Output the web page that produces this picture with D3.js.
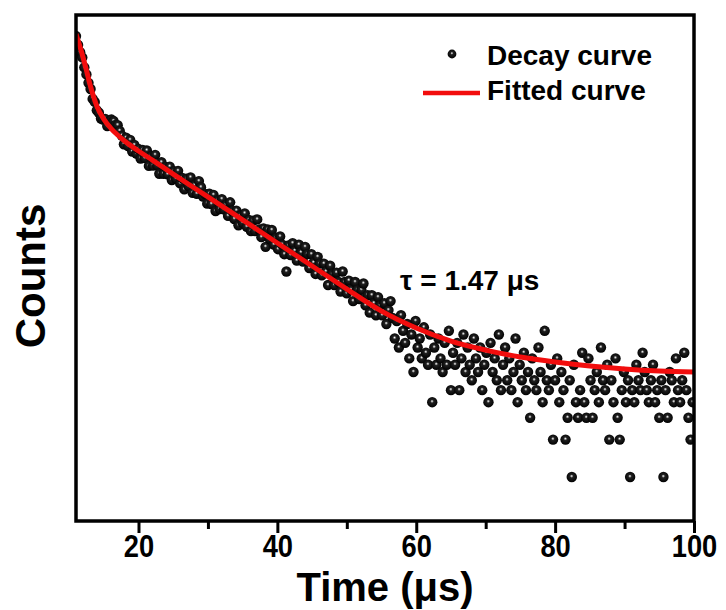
<!DOCTYPE html>
<html>
<head>
<meta charset="utf-8">
<script src="https://cdn.jsdelivr.net/npm/d3@7"></script>
<style>
  html, body { margin: 0; padding: 0; background: #fff; }
  text { font-family: "Liberation Sans", Arial, sans-serif; font-weight: bold; fill: #000; }
</style>
</head>
<body>
<div id="chart"></div>
<script>
// ---- data ----
const xTicksMajor = [20, 40, 60, 80, 100];
const xTicksMinor = [30, 50, 70, 90];
const xDomain = [11, 100];
const yDomain = [0.443, 5200];   // log scale, counts (no labels shown)

// fitted curve (time in us, counts)
const fitTime = [11.0, 11.5, 12.0, 12.5, 13.0, 13.5, 14.0, 15.0, 16.0, 17.0, 18.0, 20.0, 22.0, 25.0,
  30.0, 35.0, 40.0, 45.0, 50.0, 55.0, 60.0, 65.0, 70.0, 75.0, 80.0, 85.0, 90.0, 95.0, 100.0];
const fitCounts = [3650, 2980, 2390, 1873, 1447, 1160, 963, 757, 641, 563, 504, 419, 354, 273,
  179, 117, 76.2, 49.8, 32.5, 21.6, 15.8, 12.4, 10.5, 9.23, 8.41, 7.81, 7.39, 7.12, 6.99];

// decay curve points [time, counts]
const decayPoints = [
  [11.0, 3520], [11.3, 2990], [11.6, 2610], [11.9, 2370], [12.2, 1970], [12.5, 1730], [12.8, 1480],
  [13.1, 1320], [13.4, 1100], [13.7, 1040], [14.0, 890], [14.3, 850], [14.6, 765], [14.9, 750],
  [15.2, 760], [15.5, 665], [15.8, 730], [16.1, 750], [16.4, 730], [16.7, 680], [17.0, 676],
  [17.3, 608], [17.6, 557], [17.9, 475], [18.2, 535], [18.5, 460], [18.8, 515], [19.1, 415],
  [19.4, 468], [19.7, 400], [20.0, 435], [20.3, 365], [20.6, 428], [20.9, 367], [21.2, 423],
  [21.5, 318], [21.8, 380], [22.1, 320], [22.4, 390], [22.7, 321], [23.0, 275], [23.3, 340],
  [23.6, 275], [23.9, 312], [24.2, 272], [24.5, 314], [24.8, 245], [25.1, 288], [25.4, 251],
  [25.7, 290], [26.0, 230], [26.3, 254], [26.6, 206], [26.9, 251], [27.2, 219], [27.5, 257],
  [27.8, 193], [28.1, 223], [28.4, 190], [28.7, 240], [29.0, 214], [29.3, 180], [29.6, 189],
  [29.9, 158], [30.2, 190], [30.5, 157], [30.8, 186], [31.1, 138], [31.4, 168], [31.7, 143],
  [32.0, 172], [32.3, 142], [32.6, 155], [32.9, 126], [33.2, 162], [33.5, 138], [33.8, 119],
  [34.1, 139], [34.4, 106], [34.7, 127], [35.0, 111], [35.3, 132], [35.6, 103], [35.9, 117],
  [36.2, 95], [36.5, 115], [36.8, 95], [37.1, 118], [37.4, 98], [37.7, 85], [38.0, 100],
  [38.3, 71], [38.6, 98], [38.9, 82], [39.2, 97], [39.5, 74], [39.8, 84], [40.1, 68],
  [40.4, 86], [40.7, 74], [41.0, 62], [41.3, 45], [41.6, 73], [41.9, 61], [42.2, 76],
  [42.5, 66], [42.8, 55], [43.1, 74], [43.4, 64], [43.7, 54], [44.0, 71], [44.3, 62],
  [44.6, 48], [44.9, 62], [45.2, 53], [45.5, 43], [45.8, 59], [46.1, 52], [46.4, 42],
  [46.7, 52], [47.0, 45], [47.3, 35], [47.6, 50], [47.9, 43], [48.2, 35], [48.5, 44],
  [48.8, 37], [49.1, 31], [49.4, 45], [49.7, 37], [50.0, 30], [50.3, 38], [50.6, 32],
  [50.9, 26], [51.2, 37], [51.5, 32], [51.8, 27], [52.1, 32], [52.4, 36], [52.7, 24],
  [53.0, 29], [53.3, 21], [53.6, 29], [53.9, 25], [54.2, 20], [54.5, 28], [54.8, 24],
  [55.1, 20], [55.4, 25], [55.7, 17], [56.0, 22], [56.3, 26], [56.6, 19], [56.9, 13],
  [57.2, 18], [57.5, 11], [57.8, 20], [58.1, 15], [58.4, 12], [58.7, 17], [59.0, 9],
  [59.3, 14], [59.6, 7], [59.9, 18], [60.2, 11], [60.5, 13], [60.8, 9], [61.1, 16],
  [61.4, 10], [61.7, 8], [62.0, 14], [62.3, 4], [62.6, 11], [62.9, 8], [63.2, 13],
  [63.5, 9], [63.8, 7], [64.1, 12], [64.4, 8], [64.7, 15], [65.0, 5], [65.3, 10],
  [65.6, 8], [65.9, 12], [66.2, 5], [66.5, 9], [66.8, 14], [67.1, 7], [67.4, 11],
  [67.7, 8], [68.0, 6], [68.3, 13], [68.6, 9], [68.9, 7], [69.2, 11], [69.5, 5],
  [69.8, 8], [70.1, 10], [70.4, 4], [70.7, 12], [71.0, 7], [71.3, 9], [71.6, 6],
  [71.9, 14], [72.2, 5], [72.5, 8], [72.8, 11], [73.1, 6], [73.4, 9], [73.7, 5],
  [74.0, 7], [74.3, 13], [74.6, 4], [74.9, 8], [75.2, 6], [75.5, 10], [75.8, 5],
  [76.1, 7], [76.4, 3], [76.7, 9], [77.0, 6], [77.3, 5], [77.6, 11], [77.9, 7],
  [78.2, 4], [78.5, 15], [78.8, 6], [79.1, 5], [79.4, 8], [79.7, 2], [80.0, 6],
  [80.3, 9], [80.6, 4], [80.9, 7], [81.2, 5], [81.5, 2], [81.8, 3], [82.1, 6],
  [82.4, 1], [82.7, 8], [83.0, 4], [83.3, 3], [83.6, 5], [83.9, 10], [84.2, 4],
  [84.5, 3], [84.8, 9], [85.1, 6], [85.4, 3], [85.7, 5], [86.0, 7], [86.3, 4],
  [86.6, 11], [86.9, 6], [87.2, 5], [87.5, 8], [87.8, 2], [88.1, 6], [88.4, 4],
  [88.7, 9], [89.0, 3], [89.3, 2], [89.6, 5], [89.9, 7], [90.2, 4], [90.5, 6],
  [90.8, 1], [91.1, 5], [91.4, 4], [91.7, 8], [92.0, 6], [92.3, 5], [92.6, 10],
  [92.9, 7], [93.2, 5], [93.5, 4], [93.8, 6], [94.1, 8], [94.4, 4], [94.7, 5],
  [95.0, 3], [95.3, 6], [95.6, 1], [95.9, 5], [96.2, 3], [96.5, 7], [96.8, 6],
  [97.1, 4], [97.4, 9], [97.7, 5], [98.0, 4], [98.3, 6], [98.6, 10], [98.9, 5],
  [99.2, 3], [99.5, 2], [99.8, 4]
];

const legendLabels = ["Decay curve", "Fitted curve"];
const xTitle = "Time (\u03bcs)";
const yTitle = "Counts";
const tauLabel = "\u03c4 = 1.47 \u03bcs";

// ---- layout ----
const WIDTH = 726, HEIGHT = 610;
const margin = { top: 15, right: 32, bottom: 89, left: 76 };
const WIDTHVIS = WIDTH - margin.left - margin.right;
const HEIGHTVIS = HEIGHT - margin.top - margin.bottom;

const xScale = d3.scaleLinear().domain(xDomain).range([0, WIDTHVIS]);
const yScale = d3.scaleLog().domain(yDomain).range([HEIGHTVIS, 0]);

const svg = d3.select("#chart")
  .append("svg")
  .attr("width", WIDTH)
  .attr("height", HEIGHT);

// shiny black ball gradient
const defs = svg.append("defs");
const grad = defs.append("radialGradient")
  .attr("id", "ball")
  .attr("cx", "50%").attr("cy", "45%").attr("r", "55%")
  .attr("fx", "48%").attr("fy", "40%");
grad.append("stop").attr("offset", "0%").attr("stop-color", "#ffffff");
grad.append("stop").attr("offset", "12%").attr("stop-color", "#a8a8a8");
grad.append("stop").attr("offset", "30%").attr("stop-color", "#202020");
grad.append("stop").attr("offset", "100%").attr("stop-color", "#000000");

defs.append("clipPath").attr("id", "plotClip")
  .append("rect").attr("width", WIDTHVIS).attr("height", HEIGHTVIS);

const plot = svg.append("g")
  .attr("transform", `translate(${margin.left}, ${margin.top})`);

// data points
plot.append("g")
  .attr("clip-path", "url(#plotClip)")
  .selectAll("circle")
  .data(decayPoints)
  .join("circle")
  .attr("cx", d => xScale(d[0]))
  .attr("cy", d => yScale(d[1]))
  .attr("r", 5.2)
  .attr("fill", "url(#ball)");

// fitted curve
const fitData = fitTime.map((t, i) => [t, fitCounts[i]]);
const line = d3.line()
  .x(d => xScale(d[0]))
  .y(d => yScale(d[1]))
  .curve(d3.curveMonotoneX);

plot.append("path")
  .datum(fitData)
  .attr("clip-path", "url(#plotClip)")
  .attr("fill", "none")
  .attr("stroke", "#f20d0d")
  .attr("stroke-width", 5)
  .attr("d", line);

// x axis ticks (major + minor), outward
const xAxisMajor = d3.axisBottom(xScale)
  .tickValues(xTicksMajor)
  .tickSize(12)
  .tickPadding(2)
  .tickFormat(d3.format("d"));
const xAxisMinor = d3.axisBottom(xScale)
  .tickValues(xTicksMinor)
  .tickSize(8)
  .tickFormat("");

const gMinor = plot.append("g")
  .attr("transform", `translate(0, ${HEIGHTVIS})`)
  .call(xAxisMinor);
const gMajor = plot.append("g")
  .attr("transform", `translate(0, ${HEIGHTVIS})`)
  .call(xAxisMajor);

[gMinor, gMajor].forEach(g => {
  g.select(".domain").remove();
  g.selectAll(".tick line").attr("stroke", "#000").attr("stroke-width", 3);
});
// tick labels look condensed in the original
gMajor.selectAll(".tick text")
  .attr("font-size", 31)
  .attr("font-family", "Liberation Sans, Arial, sans-serif")
  .attr("font-weight", "bold")
  .attr("fill", "#000")
  .attr("transform", "scale(0.88, 1)");

// frame
plot.append("rect")
  .attr("width", WIDTHVIS)
  .attr("height", HEIGHTVIS)
  .attr("fill", "none")
  .attr("stroke", "#000")
  .attr("stroke-width", 3.5);

// axis titles
svg.append("text")
  .attr("x", margin.left + WIDTHVIS / 2)
  .attr("y", 601)
  .attr("text-anchor", "middle")
  .attr("font-size", 40)
  .text(xTitle);

svg.append("text")
  .attr("transform", "translate(45, 276) rotate(-90)")
  .attr("text-anchor", "middle")
  .attr("font-size", 42)
  .text(yTitle);

// legend
svg.append("circle")
  .attr("cx", 452).attr("cy", 54).attr("r", 4.4)
  .attr("fill", "url(#ball)");
svg.append("text")
  .attr("x", 487).attr("y", 65)
  .attr("font-size", 28)
  .text(legendLabels[0]);
svg.append("line")
  .attr("x1", 423).attr("x2", 480)
  .attr("y1", 93).attr("y2", 93)
  .attr("stroke", "#f20d0d")
  .attr("stroke-width", 4.5);
svg.append("text")
  .attr("x", 487).attr("y", 100)
  .attr("font-size", 28)
  .text(legendLabels[1]);

// lifetime annotation
svg.append("text")
  .attr("x", 400).attr("y", 290)
  .attr("font-size", 28)
  .text(tauLabel);
</script>
</body>
</html>
